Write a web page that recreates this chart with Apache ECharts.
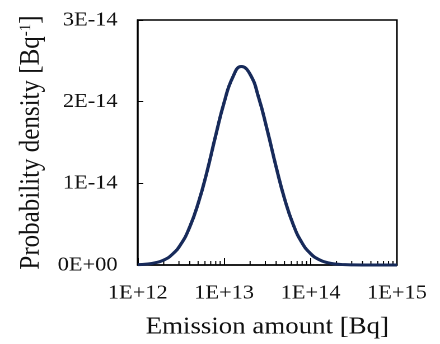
<!DOCTYPE html>
<html>
<head>
<meta charset="utf-8">
<script src="https://cdn.jsdelivr.net/npm/echarts@6/dist/echarts.min.js"></script>
<style>
  html, body { margin: 0; padding: 0; background: #fff; }
  #wrap { width: 440px; height: 344px; overflow: hidden; }
  /* the figure is drawn slightly narrower and widened to its final size */
  #chart { width: 393px; height: 344px; transform: scaleX(1.1196); transform-origin: 0 0; }
</style>
</head>
<body>
<div id="wrap"><div id="chart"></div></div>
<script>
// Emission amount [Bq] (log-spaced sample points)
const emission = [
  1.00e12, 1.26e12, 1.58e12, 2.00e12, 2.51e12, 3.16e12, 3.98e12, 5.01e12, 6.31e12, 7.94e12,
  1.00e13, 1.26e13, 1.58e13, 2.00e13, 2.51e13, 3.16e13, 3.98e13, 5.01e13, 6.31e13, 7.94e13,
  1.00e14, 1.26e14, 1.58e14, 2.00e14, 2.51e14, 3.16e14, 3.98e14, 5.01e14, 6.31e14, 7.94e14,
  1.00e15
];
// Probability density [Bq^-1]
const density = [
  0.004e-14, 0.011e-14, 0.026e-14, 0.060e-14, 0.130e-14, 0.255e-14, 0.460e-14, 0.755e-14, 1.135e-14, 1.575e-14,
  1.990e-14, 2.300e-14, 2.430e-14, 2.335e-14, 2.050e-14, 1.650e-14, 1.210e-14, 0.810e-14, 0.495e-14, 0.275e-14,
  0.140e-14, 0.065e-14, 0.028e-14, 0.011e-14, 0.004e-14, 0.001e-14, 0, 0, 0, 0,
  0
];
// Axis ranges and tick steps
const xRange = [1e12, 1e15];
const yTicks = [0, 1e-14, 2e-14, 3e-14];
// Minor ticks inside each decade (2..9 x 10^n)
const minorTicks = [];
for (let e = 12; e < 15; e++) {
  for (let m = 2; m <= 9; m++) minorTicks.push(m * Math.pow(10, e));
}

const FONT = "'Liberation Serif', 'Times New Roman', serif";
const TEXT = '#111';

function sciLabel(v) {
  if (v === 0) return '0E+00';
  const e = Math.floor(Math.log10(Math.abs(v)) + 1e-9);
  const m = Math.round(v / Math.pow(10, e));
  const s = e < 0 ? '-' : '+';
  const a = Math.abs(e);
  return m + 'E' + s + (a < 10 ? '0' + a : a);
}

const chart = echarts.init(document.getElementById('chart'), null, { renderer: 'canvas', devicePixelRatio: 2 });
chart.setOption({
  animation: false,
  grid: {
    left: 123, right: 38.5, top: 20, bottom: 76,
    show: true, borderColor: '#000', borderWidth: 1.5, backgroundColor: 'transparent'
  },
  xAxis: {
    type: 'log', logBase: 10, min: xRange[0], max: xRange[1],
    name: 'Emission amount [Bq]', nameLocation: 'middle', nameGap: 50,
    nameTextStyle: { fontFamily: FONT, fontSize: 24, color: TEXT },
    axisLine: { show: true, lineStyle: { color: '#000', width: 1.5 } },
    axisTick: { show: true, inside: true, length: 7, lineStyle: { color: '#000', width: 1 } },
    splitLine: { show: false },
    axisLabel: {
      fontFamily: FONT, fontSize: 20, color: TEXT, margin: 18,
      formatter: v => sciLabel(v)
    }
  },
  yAxis: {
    type: 'value', min: yTicks[0], max: yTicks[yTicks.length - 1], interval: 1e-14,
    name: 'Probability density [Bq{sup|-1}]', nameLocation: 'middle', nameGap: 77, nameRotate: 90,
    nameTextStyle: {
      fontFamily: FONT, fontSize: 25, color: TEXT,
      rich: { sup: { fontFamily: FONT, fontSize: 15, color: TEXT, verticalAlign: 'top' } }
    },
    axisLine: { show: true, lineStyle: { color: '#000', width: 1.5 } },
    axisTick: { show: true, inside: true, length: 5, lineStyle: { color: '#000', width: 1 } },
    splitLine: { show: false },
    axisLabel: {
      fontFamily: FONT, fontSize: 20, color: TEXT, margin: 18,
      formatter: v => sciLabel(v)
    }
  },
  series: [
    {
      type: 'custom',
      coordinateSystem: 'cartesian2d',
      data: minorTicks.map(v => [v, 0]),
      silent: true,
      clip: false,
      z: 1,
      renderItem: (params, api) => {
        const p = api.coord([api.value(0), 0]);
        return {
          type: 'line',
          shape: { x1: p[0], y1: p[1], x2: p[0], y2: p[1] - 4 },
          style: { stroke: '#000', lineWidth: 1 }
        };
      }
    },
    {
      type: 'line',
      data: emission.map((x, i) => [x, density[i]]),
      smooth: true,
      showSymbol: false,
      clip: true,
      z: 3,
      lineStyle: { color: '#172a5a', width: 3 }
    }
  ]
});
</script>
</body>
</html>
